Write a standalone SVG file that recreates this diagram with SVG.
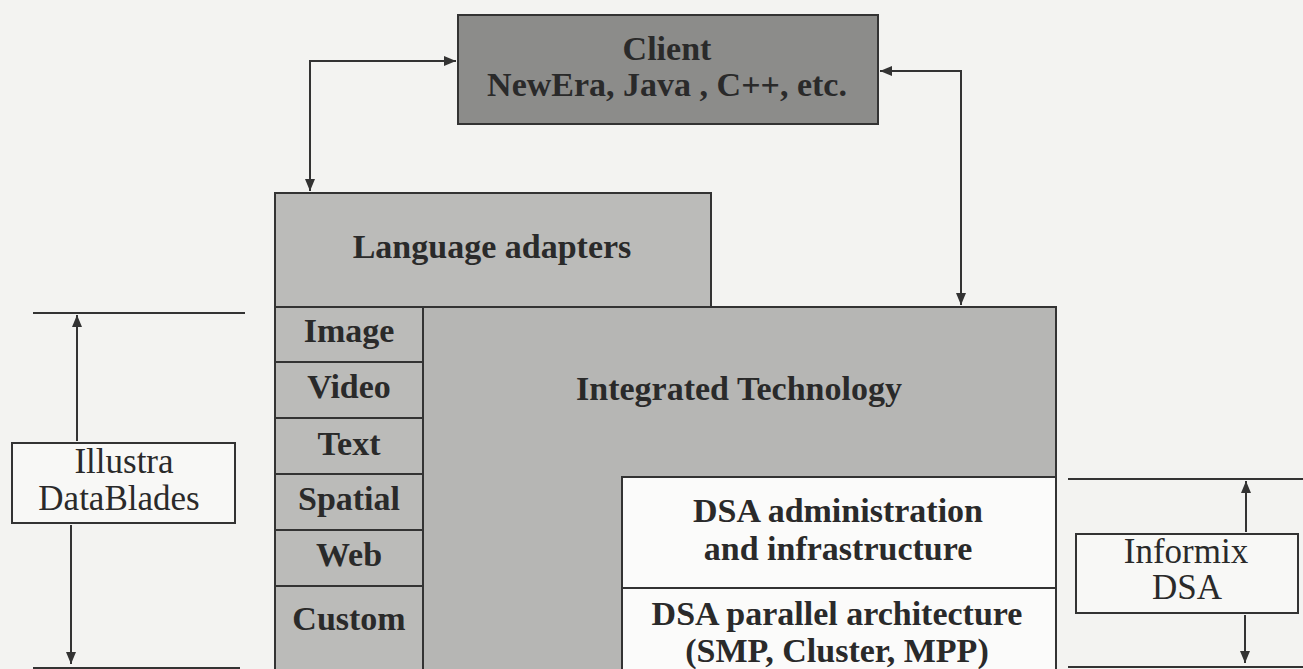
<svg xmlns="http://www.w3.org/2000/svg" width="1303" height="669" viewBox="0 0 1303 669">
<defs>
<style>
.b{font-family:"Liberation Serif","Times New Roman",serif;font-weight:bold;font-size:34px;fill:#2a2a2a;text-anchor:middle}
.r{font-family:"Liberation Serif","Times New Roman",serif;font-size:35px;fill:#2a2a2a;text-anchor:middle}
.box{stroke:#333;stroke-width:2}
.ln{stroke:#333;stroke-width:2;fill:none}
</style>
<marker id="ah" viewBox="0 0 12 10" refX="12" refY="5" markerWidth="12" markerHeight="10" orient="auto-start-reverse" markerUnits="userSpaceOnUse">
<path d="M0,0 L12,5 L0,10 z" fill="#333"/>
</marker>
</defs>
<rect width="1303" height="669" fill="#f3f3f1"/>
<g id="client">
<rect class="box" x="458" y="15" width="420" height="109" fill="#8c8c8a"/>
<text class="b" x="667" y="60">Client</text>
<text class="b" x="667" y="96">NewEra, Java , C++, etc.</text>
</g>
<g id="language-adapters">
<rect class="box" x="275" y="193" width="436" height="114" fill="#bbbbb9"/>
<text class="b" x="492" y="258">Language adapters</text>
</g>
<g id="integrated-technology">
<rect class="box" x="423" y="307" width="633" height="365" fill="#b6b6b4"/>
<text class="b" x="739" y="400">Integrated Technology</text>
</g>
<g id="blades">
<rect class="box" x="275" y="307" width="148" height="55" fill="#bbbbb9"/>
<text class="b" x="349" y="342">Image</text>
<rect class="box" x="275" y="362" width="148" height="56" fill="#bbbbb9"/>
<text class="b" x="349" y="398">Video</text>
<rect class="box" x="275" y="418" width="148" height="56" fill="#bbbbb9"/>
<text class="b" x="349" y="455">Text</text>
<rect class="box" x="275" y="474" width="148" height="56" fill="#bbbbb9"/>
<text class="b" x="349" y="510">Spatial</text>
<rect class="box" x="275" y="530" width="148" height="56" fill="#bbbbb9"/>
<text class="b" x="349" y="566">Web</text>
<rect class="box" x="275" y="586" width="148" height="86" fill="#bbbbb9"/>
<text class="b" x="349" y="630">Custom</text>
</g>
<g id="dsa-admin">
<rect class="box" x="622" y="477" width="434" height="111" fill="#fbfbfa"/>
<text class="b" x="838" y="522">DSA administration</text>
<text class="b" x="838" y="560">and infrastructure</text>
</g>
<g id="dsa-parallel">
<rect class="box" x="622" y="588" width="434" height="84" fill="#fbfbfa"/>
<text class="b" x="837" y="625">DSA parallel architecture</text>
<text class="b" x="837" y="662">(SMP, Cluster, MPP)</text>
</g>
<g id="illustra">
<rect class="box" x="12" y="443" width="223" height="80" fill="#f8f8f6" stroke-width="1.5"/>
<text class="r" x="124" y="473">Illustra</text>
<text class="r" x="119" y="510">DataBlades</text>
</g>
<g id="informix">
<rect class="box" x="1076" y="534" width="222" height="79" fill="#f8f8f6" stroke-width="1.5"/>
<text class="r" x="1186" y="563" font-size="31">Informix</text>
<text class="r" x="1187" y="599" font-size="31">DSA</text>
</g>
<g id="connectors">
<path class="ln" d="M456,61 L310,61 L310,191" marker-start="url(#ah)" marker-end="url(#ah)"/>
<path class="ln" d="M880,71 L961,71 L961,305" marker-start="url(#ah)" marker-end="url(#ah)"/>
<line class="ln" x1="33" y1="313" x2="245" y2="313"/>
<line class="ln" x1="33" y1="668" x2="240" y2="668"/>
<line class="ln" x1="77" y1="441" x2="77" y2="315" marker-end="url(#ah)"/>
<line class="ln" x1="71" y1="525" x2="71" y2="664" marker-end="url(#ah)"/>
<line class="ln" x1="1068" y1="479" x2="1303" y2="479"/>
<line class="ln" x1="1068" y1="667" x2="1303" y2="667"/>
<line class="ln" x1="1246" y1="532" x2="1246" y2="481" marker-end="url(#ah)"/>
<line class="ln" x1="1245" y1="615" x2="1245" y2="663" marker-end="url(#ah)"/>
</g>
</svg>
